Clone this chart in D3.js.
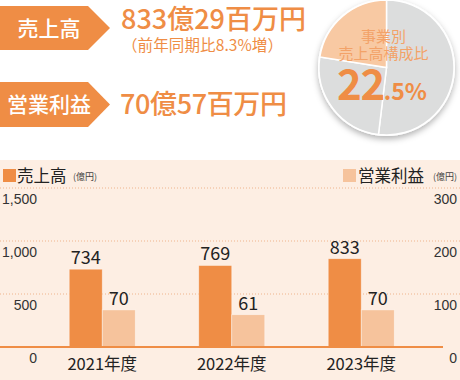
<!DOCTYPE html>
<html><head><meta charset="utf-8">
<script src="https://cdn.jsdelivr.net/npm/d3@7"></script>
<style>
html,body{margin:0;padding:0;background:#fff;}
svg{display:block;font-family:"Noto Sans CJK JP","Noto Sans",sans-serif;}
</style></head>
<body><svg id="c" width="460" height="380"></svg>
<script>
const categories = ["2021年度","2022年度","2023年度"];
const sales = [734, 769, 833];
const profit = [70, 61, 70];
const leftTicks = [0, 500, 1000, 1500];
const rightTicks = [0, 100, 200, 300];
const pieShares = [51.9, 25.6, 22.5];

const ORANGE = "#EF8D45", LIGHT = "#F6C39C", BG = "#FDEEE3";
const svg = d3.select("#c");
const defs = svg.append("defs");
const f = defs.append("filter").attr("id","sh").attr("x","-20%").attr("y","-20%").attr("width","140%").attr("height","150%");
f.append("feDropShadow").attr("dx",0).attr("dy",3).attr("stdDeviation",3).attr("flood-color","#000").attr("flood-opacity",0.3);

// chart background
svg.append("rect").attr("x",0).attr("y",160).attr("width",460).attr("height",220).attr("fill",BG);

// badges
function badge(y0, y1, label){
  const ym = (y0+y1)/2;
  svg.append("path").attr("d",`M0,${y0}H88L110,${ym}L88,${y1}H0Z`).attr("fill",ORANGE);
  svg.append("text").attr("x",49).attr("y",ym+7.5).attr("text-anchor","middle")
    .attr("fill","#fff").attr("font-size",21).attr("font-weight",500).text(label);
}
badge(6,50,"売上高");
badge(82,127,"営業利益");
svg.append("text").attr("x",121).attr("y",29).attr("fill",ORANGE).attr("font-size",27).attr("font-weight",500)
  .attr("textLength",185).attr("lengthAdjust","spacing").text("833億29百万円");
svg.append("text").attr("x",122).attr("y",51).attr("fill",ORANGE).attr("font-size",15.5)
  .attr("textLength",161).attr("lengthAdjust","spacing").text("（前年同期比8.3%増）");
svg.append("text").attr("x",120).attr("y",114).attr("fill",ORANGE).attr("font-size",27).attr("font-weight",500)
  .attr("textLength",167).attr("lengthAdjust","spacing").text("70億57百万円");

// pie
const cx = 386.5, cy = 67.5, R = 67.5;
const pie = d3.pie().sort(null).value(d=>d)(pieShares);
const arc = d3.arc().innerRadius(0).outerRadius(R);
const pg = svg.append("g").attr("transform",`translate(${cx},${cy})`);
pg.append("circle").attr("r",R+1).attr("fill","#fff").attr("filter","url(#sh)");
pg.selectAll("path").data(pie).join("path").attr("d",arc)
  .attr("fill",(d,i)=> i===2 ? "#F8C9A3" : "#DCDDDD")
  .attr("stroke","#fff").attr("stroke-width",1.5);
svg.append("text").attr("x",383.5).attr("y",42).attr("text-anchor","middle").attr("fill","#F3A268").attr("font-size",15).text("事業別");
svg.append("text").attr("x",383.5).attr("y",59).attr("text-anchor","middle").attr("fill","#F3A268").attr("font-size",15).text("売上高構成比");
const pt = svg.append("text").attr("x",382).attr("y",100).attr("text-anchor","middle").attr("fill",ORANGE).attr("font-weight",700);
pt.append("tspan").attr("font-size",42).attr("letter-spacing",-1.5).text("22");
pt.append("tspan").attr("font-size",23).text(".5%");

// scales
const x = d3.scaleBand().domain(categories).range([37.5, 426]).paddingInner(0.49).paddingOuter(0.245);
const xs = d3.scaleBand().domain(["s","p"]).range([0, x.bandwidth()]);
const yL = d3.scaleLinear().domain([0,1500]).range([347,188]);
const yR = d3.scaleLinear().domain([0,300]).range([347,188]);

// gridlines
svg.append("g").selectAll("line").data(leftTicks.filter(d=>d>0)).join("line")
  .attr("x1",0).attr("x2",460).attr("y1",d=>yL(d)).attr("y2",d=>yL(d))
  .attr("stroke","#EFB48C").attr("stroke-width",1).attr("stroke-dasharray","1,2");

// axes
const ax = svg.append("g").attr("transform","translate(37,0)")
  .call(d3.axisLeft(yL).tickValues(leftTicks).tickSize(0).tickPadding(0).tickFormat(d3.format(",")));
const axR = svg.append("g").attr("transform","translate(457,0)")
  .call(d3.axisLeft(yR).tickValues(rightTicks).tickSize(0).tickPadding(0));
[ax,axR].forEach(a=>{
  a.select(".domain").remove();
  a.selectAll("text").attr("font-size",14).attr("fill","#333").attr("dy",15).attr("font-family",null);
});

// bars
const g = svg.append("g");
const groups = g.selectAll("g").data(categories).join("g").attr("transform",d=>`translate(${x(d)},0)`);
groups.append("rect").attr("x",xs("s")).attr("width",xs.bandwidth())
  .attr("y",(d,i)=>yL(sales[i])).attr("height",(d,i)=>yL(0)-yL(sales[i]))
  .attr("fill",ORANGE).attr("stroke","#fff").attr("stroke-opacity",0.5).attr("stroke-width",0.8);
groups.append("rect").attr("x",xs("p")).attr("width",xs.bandwidth())
  .attr("y",(d,i)=>yR(profit[i])).attr("height",(d,i)=>yR(0)-yR(profit[i]))
  .attr("fill",LIGHT).attr("stroke","#fff").attr("stroke-opacity",0.5).attr("stroke-width",0.8);
groups.append("text").attr("x",xs("s")+xs.bandwidth()/2).attr("y",(d,i)=>yL(sales[i])-5)
  .attr("text-anchor","middle").attr("font-size",18).attr("fill","#222").text((d,i)=>sales[i]);
groups.append("text").attr("x",xs("p")+xs.bandwidth()/2).attr("y",(d,i)=>yR(profit[i])-5)
  .attr("text-anchor","middle").attr("font-size",18).attr("fill","#222").text((d,i)=>profit[i]);
groups.append("text").attr("x",x.bandwidth()/2).attr("y",370)
  .attr("text-anchor","middle").attr("font-size",16.5).attr("fill","#222").text(d=>d);

// baseline
svg.append("line").attr("x1",0).attr("x2",443).attr("y1",yL(0)).attr("y2",yL(0)).attr("stroke",ORANGE).attr("stroke-width",2);

// legends
svg.append("rect").attr("x",3).attr("y",169).attr("width",13).attr("height",13).attr("fill",ORANGE);
svg.append("text").attr("x",17).attr("y",182).attr("font-size",16.5).attr("fill","#222").text("売上高");
svg.append("text").attr("x",73).attr("y",180).attr("font-size",9).attr("fill","#444").text("(億円)");
svg.append("rect").attr("x",343).attr("y",169).attr("width",13).attr("height",13).attr("fill",LIGHT);
svg.append("text").attr("x",358).attr("y",182).attr("font-size",16.5).attr("fill","#222").text("営業利益");
svg.append("text").attr("x",457).attr("y",180).attr("text-anchor","end").attr("font-size",9).attr("fill","#444").text("(億円)");
</script></body></html>
